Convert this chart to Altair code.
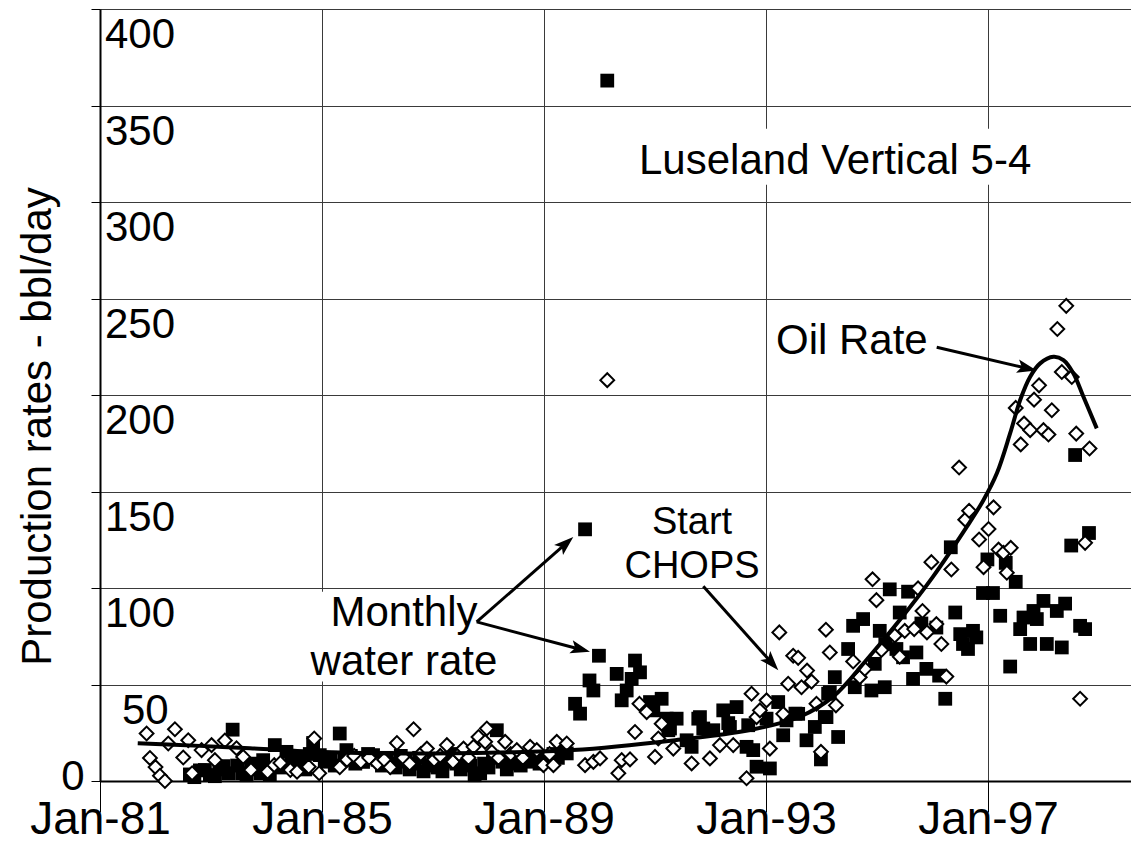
import math
import altair as alt
import pandas as pd

FONT = "Liberation Sans, Arial, Helvetica, sans-serif"

# ---------------- data ----------------
# Oil rate, monthly (open diamonds): decimal year, bbl/day
oil_year = [1981.84, 1981.90, 1982.00, 1982.08, 1982.17, 1982.23, 1982.35, 1982.50, 1982.59, 1982.66,
            1982.83, 1983.01, 1983.07, 1983.25, 1983.46, 1983.58, 1983.72, 1984.02, 1984.14, 1984.25,
            1984.43, 1984.55, 1984.76, 1984.86, 1984.95, 1985.32, 1985.45, 1985.58, 1985.70, 1985.85,
            1986.00, 1986.12, 1986.23, 1986.35, 1986.47, 1986.58, 1986.65, 1986.78, 1986.89, 1987.02,
            1987.13, 1987.25, 1987.36, 1987.47, 1987.55, 1987.64, 1987.73, 1987.82, 1987.94, 1987.97,
            1988.06, 1988.18, 1988.30, 1988.40, 1988.51, 1988.62, 1988.75, 1988.87, 1988.99, 1989.10,
            1989.17, 1989.23, 1989.41, 1989.74, 1989.89, 1990.01, 1990.14, 1990.34, 1990.40, 1990.55,
            1990.64, 1990.72, 1990.85, 1991.00, 1991.06, 1991.12, 1991.33, 1991.66, 1991.99, 1992.17,
            1992.41, 1992.65, 1992.74, 1992.83, 1992.89, 1993.01, 1993.07, 1993.24, 1993.31, 1993.40,
            1993.49, 1993.58, 1993.64, 1993.74, 1993.82, 1993.91, 1993.99, 1994.08, 1994.15, 1994.26,
            1994.57, 1994.69, 1994.78, 1994.92, 1994.99, 1995.08, 1995.32, 1995.41, 1995.50, 1995.67,
            1995.74, 1995.82, 1995.90, 1995.98, 1996.07, 1996.16, 1996.25, 1996.34, 1996.48, 1996.59,
            1996.66, 1996.84, 1996.92, 1997.01, 1997.10, 1997.19, 1997.28, 1997.34, 1997.41, 1997.50,
            1997.59, 1997.65, 1997.76, 1997.83, 1997.92, 1998.00, 1998.09, 1998.15, 1998.25, 1998.33,
            1998.41, 1998.51, 1998.59, 1998.66, 1998.75, 1998.83]
oil_rate = [24.6, 11.9, 7.2, 2.7, 0.0, 19.4, 26.8, 12.2, 21.1, 4.0,
            16.0, 18.6, 10.8, 21.0, 17.0, 12.5, 5.7, 4.8, 8.2, 9.3,
            5.7, 4.8, 7.4, 22.0, 4.0, 7.1, 11.0, 13.0, 10.0, 12.0,
            9.0, 11.0, 7.1, 19.7, 12.0, 9.0, 26.8, 14.0, 16.8, 11.0,
            13.0, 18.6, 10.0, 14.0, 16.8, 12.0, 17.7, 22.8, 20.3, 27.2,
            15.0, 12.0, 20.3, 14.0, 16.0, 12.0, 17.7, 16.0, 8.2, 14.0,
            8.2, 20.3, 19.4, 8.2, 9.9, 11.7, 207.7, 4.0, 10.8, 11.2,
            25.4, 40.0, 35.7, 12.5, 22.0, 29.7, 16.8, 9.1, 11.7, 18.6,
            18.6, 1.4, 45.2, 33.1, 36.6, 41.8, 16.8, 77.0, 34.8, 50.4,
            64.9, 63.8, 48.6, 57.2, 51.5, 40.0, 15.1, 78.4, 66.6, 39.2,
            61.9, 53.8, 58.1, 104.5, 93.7, 67.9, 75.3, 64.4, 77.8, 78.7,
            99.8, 88.1, 77.0, 113.4, 81.3, 71.0, 54.1, 109.6, 162.4, 135.4,
            140.0, 125.1, 110.8, 130.6, 141.8, 119.9, 118.2, 107.9, 120.8, 193.3,
            174.4, 185.2, 181.8, 197.6, 205.0, 181.8, 179.5, 192.1, 234.2, 211.9,
            246.2, 209.3, 180.0, 42.6, 123.4, 172.3]

# Monthly water rate (filled squares)
water_year = [1982.62, 1982.70, 1982.80, 1982.89, 1982.98, 1983.07, 1983.15, 1983.22, 1983.31, 1983.39,
              1983.47, 1983.56, 1983.64, 1983.72, 1983.80, 1983.89, 1983.94, 1984.06, 1984.15, 1984.24,
              1984.36, 1984.45, 1984.51, 1984.60, 1984.70, 1984.78, 1984.84, 1984.96, 1985.05, 1985.15,
              1985.23, 1985.32, 1985.40, 1985.44, 1985.52, 1985.60, 1985.67, 1985.74, 1985.83, 1985.92,
              1986.00, 1986.08, 1986.17, 1986.25, 1986.33, 1986.42, 1986.50, 1986.58, 1986.67, 1986.75,
              1986.83, 1986.92, 1987.00, 1987.08, 1987.17, 1987.25, 1987.33, 1987.42, 1987.50, 1987.58,
              1987.67, 1987.75, 1987.85, 1987.92, 1988.00, 1988.08, 1988.15, 1988.25, 1988.33, 1988.42,
              1988.50, 1988.58, 1988.67, 1988.75, 1988.83, 1988.92, 1989.00, 1989.08, 1989.17, 1989.25,
              1989.33, 1989.41, 1989.56, 1989.65, 1989.74, 1989.82, 1989.89, 1989.99, 1990.14, 1990.31,
              1990.40, 1990.49, 1990.58, 1990.64, 1990.73, 1990.91, 1990.97, 1991.12, 1991.21, 1991.24,
              1991.27, 1991.39, 1991.57, 1991.66, 1991.78, 1991.81, 1991.87, 1992.05, 1992.23, 1992.32,
              1992.35, 1992.47, 1992.65, 1992.68, 1992.77, 1992.83, 1993.01, 1993.07, 1993.22, 1993.31,
              1993.37, 1993.53, 1993.58, 1993.73, 1993.88, 1993.99, 1994.06, 1994.09, 1994.12, 1994.15,
              1994.24, 1994.30, 1994.48, 1994.57, 1994.60, 1994.75, 1994.90, 1994.96, 1995.05, 1995.14,
              1995.15, 1995.23, 1995.35, 1995.41, 1995.47, 1995.56, 1995.65, 1995.71, 1995.80, 1995.89,
              1996.07, 1996.12, 1996.23, 1996.33, 1996.41, 1996.50, 1996.55, 1996.64, 1996.73, 1996.79,
              1996.91, 1996.99, 1997.09, 1997.22, 1997.32, 1997.40, 1997.50, 1997.58, 1997.64, 1997.76,
              1997.82, 1997.88, 1998.00, 1998.06, 1998.24, 1998.33, 1998.39, 1998.50, 1998.57, 1998.66,
              1998.75, 1998.82]
water_rate = [3.4, 2.0, 5.5, 5.7, 3.1, 2.5, 6.0, 7.7, 4.0, 26.6,
              8.0, 4.0, 3.0, 9.0, 6.0, 4.0, 10.8, 3.1, 18.6, 7.0,
              15.1, 9.0, 8.2, 12.5, 6.0, 14.0, 19.7, 13.4, 10.0, 12.0,
              8.0, 24.6, 11.0, 16.0, 13.0, 9.0, 12.0, 9.9, 14.0, 13.4,
              11.0, 8.0, 12.0, 9.0, 7.0, 13.0, 10.0, 6.0, 9.0, 12.0,
              5.0, 8.0, 11.0, 7.0, 5.0, 10.0, 14.0, 9.0, 6.0, 11.0,
              8.0, 3.0, 4.0, 9.0, 7.0, 12.0, 26.3, 10.0, 6.0, 9.0,
              12.0, 8.0, 11.0, 10.0, 13.0, 9.0, 12.0, 11.0, 14.0, 12.0,
              15.0, 14.3, 40.0, 34.9, 130.4, 52.1, 46.9, 64.9, 362.9, 55.5,
              41.8, 46.9, 52.9, 62.4, 56.3, 40.9, 36.6, 42.6, 32.3, 26.3,
              27.2, 32.3, 21.1, 17.7, 32.3, 33.1, 27.2, 26.3, 36.6, 30.0,
              28.0, 38.3, 17.7, 28.9, 16.0, 7.4, 32.3, 6.5, 40.9, 23.7,
              31.4, 34.9, 34.8, 21.1, 28.0, 11.2, 33.1, 33.1, 45.2, 46.0,
              53.8, 22.8, 68.4, 80.4, 48.6, 83.9, 46.9, 60.7, 77.8, 48.6,
              71.0, 99.3, 68.4, 87.3, 64.1, 98.1, 52.9, 66.6, 81.6, 58.1,
              79.5, 54.6, 42.6, 121.1, 87.3, 76.1, 71.0, 68.4, 77.8, 74.4,
              97.4, 114.8, 97.4, 85.6, 113.0, 59.3, 103.2, 78.7, 84.7, 71.0,
              88.1, 83.9, 93.3, 71.0, 88.1, 69.2, 91.9, 122.0, 168.9, 80.4,
              78.7, 128.5]

# Oil rate trend curve
trend_year = [1981.68, 1982.80, 1983.70, 1985.02, 1986.41, 1988.21, 1989.52, 1991.32, 1992.71,
              1993.61, 1994.21, 1994.81, 1995.41, 1996.01, 1996.62, 1996.92, 1997.16, 1997.40,
              1997.58, 1997.76, 1997.94, 1998.18, 1998.36, 1998.54, 1998.72, 1998.96]
trend_rate = [19.5, 18.2, 17.0, 15.0, 14.3, 14.8, 16.0, 21.0, 26.4,
              33.3, 43.7, 62.7, 83.4, 105.9, 131.8, 145.6, 159.4, 180.2,
              197.4, 209.5, 216.4, 219.8, 218.1, 211.2, 199.1, 182.7]

x_tick_years = [1981, 1985, 1989, 1993, 1997]
y_tick_values = [0, 50, 100, 150, 200, 250, 300, 350, 400]
inner_labels = [100, 150, 200, 250, 300, 350, 400]

# annotation texts (data coordinates)
ann_text = ["Luseland Vertical 5-4", "Monthly", "water rate", "Start", "CHOPS", "Oil Rate"]
ann_x = [1990.712, 1986.477, 1986.477, 1991.667, 1991.667, 1993.180]
ann_y = [314.6, 80.2, 54.85, 127.8, 105.0, 221.5]
ann_align = ["left", "center", "center", "center", "center", "left"]
ann_size = [42, 42, 42, 38, 38, 42]

# white boxes behind some labels
box_x = [1990.65, 1984.70]
box_x2 = [1997.97, 1988.26]
box_y = [338.0, 98.0]
box_y2 = [309.0, 51.5]

# arrows: start -> tip
arr_x = [1987.787, 1987.787, 1991.870, 1996.076]
arr_y = [82.43, 82.43, 100.91, 224.74]
arr_tx = [1989.528, 1989.829, 1993.222, 1997.877]
arr_ty = [126.42, 66.91, 57.44, 212.68]

# ---------------- layout ----------------
X_MIN, X_MAX = 1981.0, 1999.577
Y_MIN, Y_MAX = 0.0, 400.0
W, H = 1031, 772
PX_X = W / (X_MAX - X_MIN)
PX_Y = H / (Y_MAX - Y_MIN)

HEAD_SIZE = 600
HEAD_R = math.sqrt(HEAD_SIZE) / 2
HEAD_PATH = "M0,-1L0.55,0.6L0,0.25L-0.55,0.6Z"

rows_rule, rows_head = [], []
for sx, sy, tx, ty in zip(arr_x, arr_y, arr_tx, arr_ty):
    dx = (tx - sx) * PX_X
    dy = -(ty - sy) * PX_Y
    L = math.hypot(dx, dy)
    ux, uy = dx / L, dy / L
    cx = tx - HEAD_R * ux / PX_X
    cy = ty + HEAD_R * uy / PX_Y
    ang = math.degrees(math.atan2(ux, -uy)) % 360
    rows_rule.append({"x": sx, "y": sy, "x2": cx, "y2": cy})
    rows_head.append({"x": cx, "y": cy, "ang": ang})

oil_df = pd.DataFrame({"x": oil_year, "y": oil_rate})
water_df = pd.DataFrame({"x": water_year, "y": water_rate})
trend_df = pd.DataFrame({"x": trend_year, "y": trend_rate})
ann_df = pd.DataFrame({"x": ann_x, "y": ann_y, "t": ann_text, "al": ann_align, "fs": ann_size})
box_df = pd.DataFrame({"x": box_x, "x2": box_x2, "y": box_y, "y2": box_y2})
rule_df = pd.DataFrame(rows_rule)
head_df = pd.DataFrame(rows_head)
inner_df = pd.DataFrame({"x": [X_MIN] * len(inner_labels), "y": inner_labels,
                         "t": [str(v) for v in inner_labels]})
fifty_df = pd.DataFrame({"x": [X_MIN], "y": [50], "t": ["50"]})

xscale = alt.Scale(domain=[X_MIN, X_MAX], nice=False, zero=False)
yscale = alt.Scale(domain=[Y_MIN, Y_MAX], nice=False, zero=False)

x_axis = alt.Axis(
    values=x_tick_years,
    labelExpr="'Jan-' + substring(toString(datum.value), 2, 4)",
    title=None, grid=True, gridColor="#3a3a3a", gridWidth=1,
    tickSize=31, tickColor="black", tickWidth=1,
    domainColor="black", domainWidth=2,
    labelFont=FONT, labelFontSize=46, labelColor="black",
    labelBaseline="alphabetic", labelPadding=21,
    labelFlush=False, labelOverlap=False,
)
y_axis = alt.Axis(
    values=y_tick_values,
    labelExpr="datum.value == 0 ? '0' : ''",
    grid=True, gridColor="#3a3a3a", gridWidth=1,
    tickSize=9, tickColor="black", tickWidth=1,
    domainColor="black", domainWidth=2,
    labelFont=FONT, labelFontSize=42, labelColor="black",
    labelPadding=7, labelFlush=False, labelOverlap=False, labelOffset=-5,
    title="Production rates - bbl/day", titleFont=FONT, titleFontSize=42,
    titleFontWeight="normal", titleColor="black",
    titleAngle=270, titleX=-50, titleY=417, titleAlign="center",
    titleBaseline="alphabetic",
)

X = alt.X("x:Q", scale=xscale, axis=x_axis)
Y = alt.Y("y:Q", scale=yscale, axis=y_axis)
Xn = alt.X("x:Q", scale=xscale)
Yn = alt.Y("y:Q", scale=yscale)

boxes = alt.Chart(box_df).mark_rect(color="white").encode(x=X, x2="x2:Q", y=Y, y2="y2:Q")

water = alt.Chart(water_df).mark_point(
    shape="square", filled=True, color="black", size=190, opacity=1
).encode(x=Xn, y=Yn)

oil = alt.Chart(oil_df).mark_point(
    shape="diamond", filled=True, fill="white", stroke="black", strokeWidth=2, size=190, opacity=1
).encode(x=Xn, y=Yn)

trend = alt.Chart(trend_df).mark_line(
    color="black", strokeWidth=4, interpolate="catmull-rom"
).encode(x=Xn, y=Yn)

texts_left = alt.Chart(ann_df[ann_df.al == "left"]).mark_text(
    font=FONT, color="black", baseline="alphabetic", align="left"
).encode(x=Xn, y=Yn, text="t:N", size=alt.Size("fs:Q", scale=None, legend=None))
texts_center = alt.Chart(ann_df[ann_df.al == "center"]).mark_text(
    font=FONT, color="black", baseline="alphabetic", align="center"
).encode(x=Xn, y=Yn, text="t:N", size=alt.Size("fs:Q", scale=None, legend=None))

inner = alt.Chart(inner_df).mark_text(
    font=FONT, fontSize=42, color="black", align="left", baseline="alphabetic", dx=5, dy=39
).encode(x=Xn, y=Yn, text="t:N")
fifty = alt.Chart(fifty_df).mark_text(
    font=FONT, fontSize=42, color="black", align="left", baseline="alphabetic", dx=22, dy=39
).encode(x=Xn, y=Yn, text="t:N")

rules = alt.Chart(rule_df).mark_rule(color="black", strokeWidth=3).encode(
    x=Xn, y=Yn, x2="x2:Q", y2="y2:Q"
)
heads = alt.Chart(head_df).mark_point(
    shape=HEAD_PATH, filled=True, color="black", size=HEAD_SIZE, opacity=1
).encode(x=Xn, y=Yn, angle=alt.Angle("ang:Q", scale=None))

chart = alt.layer(
    boxes, water, oil, trend, texts_left, texts_center, inner, fifty, rules, heads
).properties(
    width=W, height=H,
    autosize=alt.AutoSizeParams(type="none"),
    padding={"left": 92, "top": 1, "right": 0, "bottom": 70},
    background="white",
).configure_view(strokeWidth=0)

chart.save("out.html", embed_options={"renderer": "svg", "actions": False})
